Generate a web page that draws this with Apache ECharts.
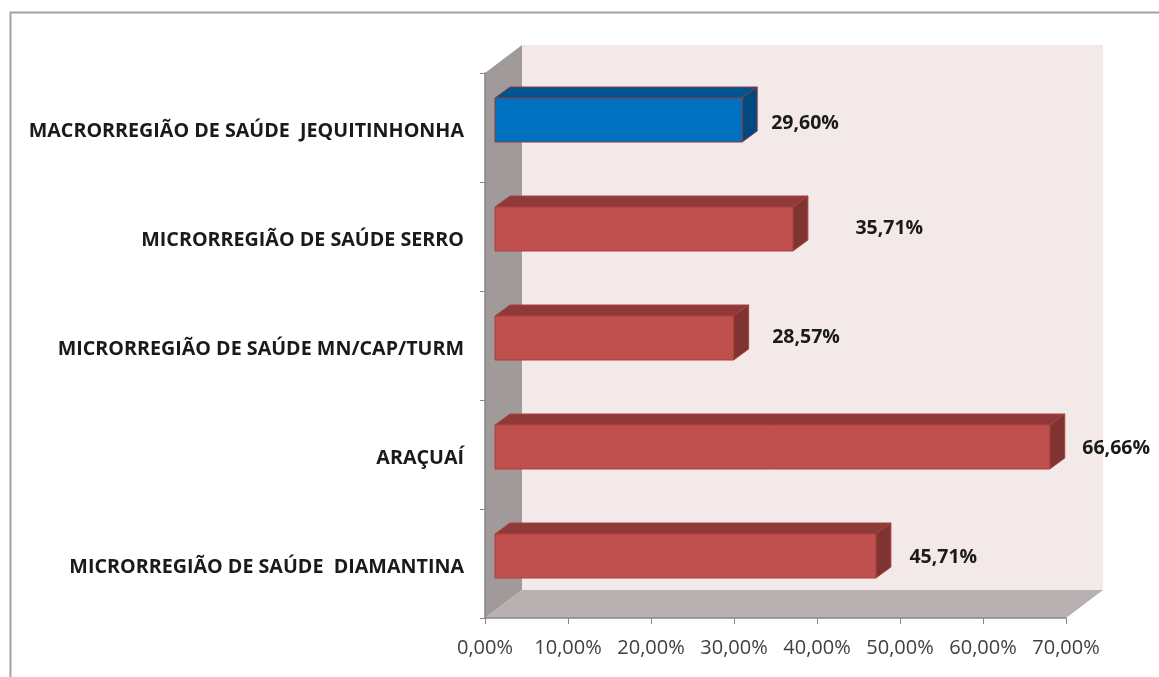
<!DOCTYPE html>
<html>
<head>
<meta charset="utf-8">
<style>html,body{margin:0;padding:0;background:#fff}#c{width:1159px;height:677px}</style>
<script src="https://cdn.jsdelivr.net/npm/echarts@6/dist/echarts.min.js"></script>
</head>
<body>
<div id="c"></div>
<script>
// bottom-to-top order, as a category axis draws them
const categories = [
  'MICRORREGIÃO DE SAÚDE  DIAMANTINA',
  'ARAÇUAÍ',
  'MICRORREGIÃO DE SAÚDE MN/CAP/TURM',
  'MICRORREGIÃO DE SAÚDE SERRO',
  'MACRORREGIÃO DE SAÚDE  JEQUITINHONHA'
];
const values = [45.71, 66.66, 28.57, 35.71, 29.60];
const highlighted = [false, false, false, false, true];

// layout of the pseudo-3D drawing, kept apart from the data
const labelGaps = [18.5, 17.5, 23.5, 47.5, 14];
const labelRises = [-6.5, -6.5, -8.5, -8.5, -4.5];
const WALL = {dx: 37, dy: -28};
const BAR = {dx: 15, dy: -11, shiftX: 10, endExtra: 1.5, shiftY: -7.5, height: 44};
const AXIS_MAX = 70;

const pct = v => v.toFixed(2).replace('.', ',') + '%';
const poly = (points, fill, stroke, lw) => ({
  type: 'polygon',
  shape: {points},
  style: {fill, stroke: stroke || fill, lineWidth: lw === undefined ? 1 : lw}
});
const RED = {front: '#c0504d', top: '#8f3a38', side: '#7f3432', edge: '#a8403d'};
const BLUE = {front: '#0070c0', top: '#00548f', side: '#004a80', edge: '#8c3a3a'};

function renderRoom(params, api) {
  const cs = params.coordSys;
  const x0 = cs.x, x1 = cs.x + cs.width, y0 = cs.y, y1 = cs.y + cs.height;
  const d = WALL;
  return {
    type: 'group',
    children: [
      poly([[x0 + d.dx, y0 + d.dy], [x1 + d.dx, y0 + d.dy], [x1 + d.dx, y1 + d.dy], [x0 + d.dx, y1 + d.dy]], '#f4e9e9', 'none', 0),
      poly([[x0, y0], [x0 + d.dx, y0 + d.dy], [x0 + d.dx, y1 + d.dy], [x0, y1]], '#a09a9a', 'none', 0),
      poly([[x0, y1], [x1, y1], [x1 + d.dx, y1 + d.dy], [x0 + d.dx, y1 + d.dy]], '#b9b1b1', 'none', 0)
    ]
  };
}

function renderBar(params, api) {
  const i = params.dataIndex;
  const c = highlighted[i] ? BLUE : RED;
  const start = api.coord([0, api.value(1)]);
  const end = api.coord([api.value(0), api.value(1)]);
  const l = start[0] + BAR.shiftX, r = end[0] + BAR.shiftX + BAR.endExtra;
  const t = end[1] + BAR.shiftY - BAR.height / 2, b = t + BAR.height;
  const dx = BAR.dx, dy = BAR.dy;
  return {
    type: 'group',
    children: [
      poly([[l, t], [r, t], [r + dx, t + dy], [l + dx, t + dy]], c.top, c.edge),
      poly([[r, t], [r + dx, t + dy], [r + dx, b + dy], [r, b]], c.side, c.edge),
      poly([[l, t], [r, t], [r, b], [l, b]], c.front, c.edge),
      {
        type: 'text',
        style: {
          x: r + dx + labelGaps[i],
          y: end[1] + labelRises[i],
          text: pct(api.value(0)),
          fill: '#1a1a1a',
          font: 'bold 19.5px "Open Sans"',
          textAlign: 'left',
          textVerticalAlign: 'middle'
        }
      }
    ]
  };
}

const chart = echarts.init(document.getElementById('c'), null, {width: 1159, height: 677});
chart.setOption({
  backgroundColor: '#ffffff',
  animation: false,
  graphic: [{
    type: 'polyline',
    silent: true,
    z: 0,
    shape: {points: [[10.5, 677], [10.5, 12.5], [1159, 12.5]]},
    style: {stroke: '#a3a3a3', lineWidth: 2, fill: 'none'}
  }],
  grid: {left: 485, top: 73, width: 581, height: 545, show: false},
  xAxis: {
    type: 'value',
    min: 0,
    max: AXIS_MAX,
    interval: 10,
    z: 5,
    splitLine: {show: false},
    axisLine: {show: true, onZero: false, lineStyle: {color: '#868686', width: 1.5}},
    axisTick: {show: true, length: 6, lineStyle: {color: '#868686'}},
    axisLabel: {
      show: true,
      margin: 20,
      formatter: pct,
      color: '#404040',
      fontFamily: 'Open Sans',
      fontSize: 20,
      showMinLabel: true,
      showMaxLabel: true,
      hideOverlap: false
    }
  },
  yAxis: {
    type: 'category',
    data: categories,
    z: 5,
    splitLine: {show: false},
    axisLine: {show: true, lineStyle: {color: '#868686', width: 1.5}},
    axisTick: {show: true, length: 5, lineStyle: {color: '#868686'}},
    axisLabel: {
      show: true,
      interval: 0,
      margin: 21,
      color: '#1a1a1a',
      fontFamily: 'Open Sans',
      fontWeight: 'bold',
      fontSize: 19.7,
      verticalAlign: 'top',
      lineHeight: 7
    }
  },
  series: [
    {type: 'custom', coordinateSystem: 'cartesian2d', z: 1, clip: false, silent: true,
     renderItem: renderRoom, data: [[0, 0]], encode: {x: 0, y: 1}},
    {type: 'custom', coordinateSystem: 'cartesian2d', z: 6, clip: false, silent: true,
     renderItem: renderBar, data: values.map((v, i) => [v, i]), encode: {x: 0, y: 1}}
  ]
});
</script>
</body>
</html>
